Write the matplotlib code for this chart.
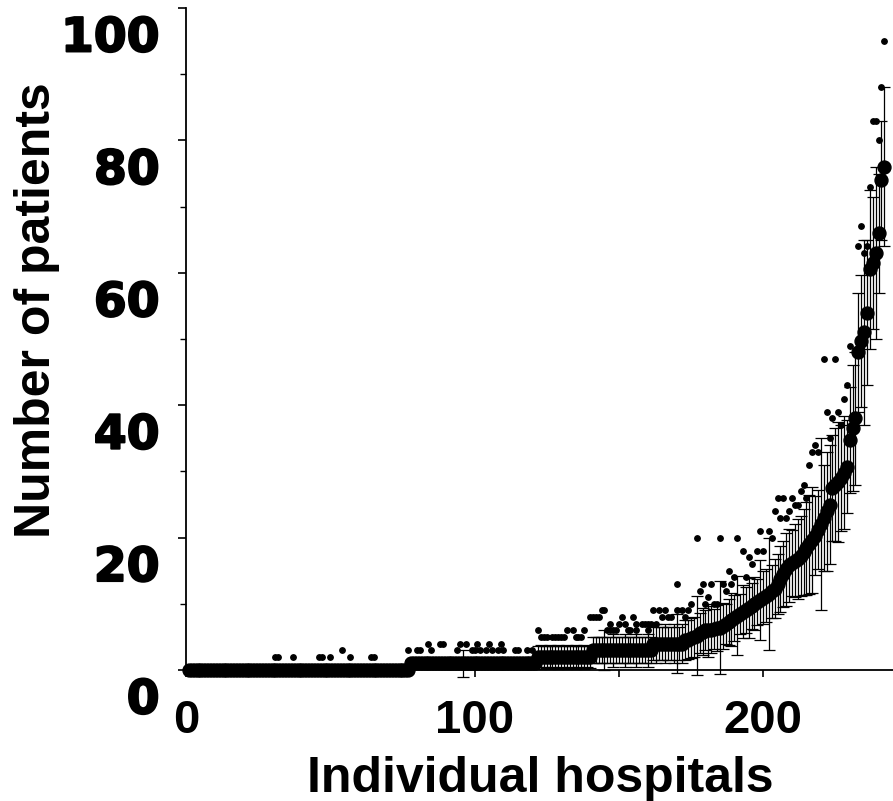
import numpy as np
import matplotlib
matplotlib.use('Agg')
import matplotlib.pyplot as plt
import matplotlib.transforms as mtransforms
import matplotlib.patheffects as pe

plt.rcParams['font.family'] = ['Liberation Sans', 'DejaVu Sans']
plt.rcParams['font.weight'] = 'bold'

# mean number of patients per hospital, sorted (hospital 1..242)
mean_patients = [
    0, 0, 0, 0, 0, 0, 0, 0, 0, 0, 0, 0, 0, 0, 0, 0, 0, 0, 0, 0,
    0, 0, 0, 0, 0, 0, 0, 0, 0, 0, 0, 0, 0, 0, 0, 0, 0, 0, 0, 0,
    0, 0, 0, 0, 0, 0, 0, 0, 0, 0, 0, 0, 0, 0, 0, 0, 0, 0, 0, 0,
    0, 0, 0, 0, 0, 0, 0, 0, 0, 0, 0, 0, 0, 0, 0, 0, 0,
    1, 1, 1, 1, 1, 1, 1, 1, 1, 1, 1, 1, 1, 1, 1, 1, 1, 1, 1, 1,
    1, 1, 1, 1, 1, 1, 1, 1, 1, 1, 1, 1, 1, 1, 1, 1, 1, 1, 1, 1,
    1, 1, 1, 1,
    2, 2, 2, 2, 2, 2, 2, 2, 2, 2, 2, 2, 2, 2, 2, 2, 2, 2, 2,
    3, 3, 3, 3, 3, 3, 3, 3, 3, 3, 3, 3, 3, 3, 3, 3, 3, 3, 3, 3, 3,
    4, 4, 4, 4, 4, 4, 4, 4, 4, 4, 4,
    4.5, 4.6, 4.8, 5.0, 5.2,
    5.6, 5.8, 6.0, 6.0, 6.1, 6.2, 6.3, 6.4, 6.6,
    7.0, 7.3, 7.6, 7.9, 8.2, 8.5, 8.8, 9.1, 9.4, 9.7, 10.0, 10.3, 10.6,
    10.9, 11.2, 11.5, 11.9, 12.3,
    13.0, 13.8, 14.5, 15.2, 15.8,
    16.2, 16.5, 16.8, 17.2,
    17.8, 18.4, 19.0, 19.6, 20.3,
    21.2, 22.0, 23.0, 24.0, 25.0,
    27.5, 28.0, 28.4, 29.0, 29.8,
    30.7, 34.7, 36.5, 38.0, 48.0, 49.7, 51.0, 54.0, 60.5, 61.5, 63.0, 66.0,
    74.0, 76.0,
]

# standard deviation (error bars)
sd_patients = [
    0, 0, 0, 0, 0, 0, 0, 0, 0, 0, 0, 0, 0, 0, 0, 0, 0, 0, 0, 0,
    0, 0, 0, 0, 0, 0, 0, 0, 0, 0, 0, 0, 0, 0, 0, 0, 0, 0, 0, 0,
    0, 0, 0, 0, 0, 0, 0, 0, 0, 0, 0, 0, 0, 0, 0, 0, 0, 0, 0, 0,
    0, 0, 0, 0, 0, 0, 0, 0, 0, 0, 0, 0, 0, 0, 0, 0, 0,
    0.5, 0.5, 0.5, 0.5, 0.5, 0.5, 0.5, 0.5, 0.5, 0.5, 0.5, 0.5, 0.5, 0.5, 0.5, 0.5, 0.5, 0.5, 2.0, 0.5,
    0.5, 0.5, 0.5, 0.5, 0.5, 0.5, 0.5, 0.5, 0.5, 0.5, 0.5, 0.5, 0.5, 0.5, 0.5, 0.5, 0.5, 0.5, 0.5, 0.5,
    0.5, 0.5, 0.5, 0.5,
    1.6, 1.8, 1.6, 1.7, 1.8, 1.6, 1.7, 1.8, 1.6, 1.7, 1.8, 1.6, 1.7, 1.8, 1.6, 1.7, 1.8, 1.6, 1.7,
    2.0, 2.0, 2.0, 2.0, 3.0, 2.0, 2.0, 2.5, 2.0, 2.0, 2.0, 2.5, 2.0, 2.0, 2.0, 2.5, 2.0, 2.0, 2.0, 2.5, 2.0,
    2.5, 3.0, 2.5, 2.5, 3.0, 2.5, 2.5, 3.0, 4.5, 2.5, 3.0,
    3.0, 3.0, 3.0, 3.0, 6.0,
    3.0, 3.5, 3.0, 4.0, 3.5, 3.0, 3.5, 7.0, 3.5,
    3.0, 3.5, 4.0, 3.5, 6.0, 3.0, 4.0, 3.5, 4.5, 3.5, 4.0, 3.5, 6.0,
    4.0, 4.0, 8.5, 4.0, 4.5,
    4.5, 5.0, 5.0, 5.5, 5.5,
    5.0, 5.5, 6.0, 6.0,
    6.5, 7.0, 7.5, 8.0, 6.0,
    6.0, 13.0, 8.0, 9.0, 9.0,
    8.0, 8.5, 9.0, 8.0, 8.5,
    7.0, 8.0, 9.5, 10.0, 9.0, 10.0, 14.0, 11.0, 12.0, 10.0, 13.0, 9.0,
    9.0, 12.0,
]

# individual extreme values shown as small dots
extreme_x = [
    31, 32, 37, 46, 47, 50, 57, 64, 65,
    54, 77, 80, 81, 85, 94, 99, 100, 102, 104, 106, 108, 110, 114, 115, 118, 120,
    84, 88, 89, 95, 97, 101, 105, 109,
    123, 124, 125, 127, 128, 129, 130, 131, 135, 136, 137,
    122, 132, 134, 138, 146, 147, 148, 149, 153, 154, 156, 160,
    147, 150, 152, 156, 158, 159, 160, 161, 163,
    140, 141, 142, 143, 151, 155, 165, 167, 168, 173,
    144, 145, 162, 164, 166, 170, 172, 174,
    175, 180, 183, 184,
    181, 178, 187, 170, 179, 182, 186, 189,
    190, 194, 188, 196, 195, 193, 198, 200,
    177, 185, 191, 203, 199, 202, 206, 208, 204, 209, 211, 212,
    205, 207, 210, 215, 213, 214, 216, 217, 219, 218, 223, 227, 224,
    222, 226, 228, 229, 221, 225, 230,
    235, 233, 236, 234, 237, 240, 238, 239, 241, 242,
]
extreme_y = [
    2, 2, 2, 2, 2, 2, 2, 2, 2,
    3, 3, 3, 3, 3, 3, 3, 3, 3, 3, 3, 3, 3, 3, 3, 3, 3,
    4, 4, 4, 4, 4, 4, 4, 4,
    5, 5, 5, 5, 5, 5, 5, 5, 5, 5, 5,
    6, 6, 6, 6, 6, 6, 6, 6, 6, 6, 6, 6,
    7, 7, 7, 7, 7, 7, 7, 7, 7,
    8, 8, 8, 8, 8, 8, 8, 8, 8, 8,
    9, 9, 9, 9, 9, 9, 9, 9,
    10, 10, 10, 10,
    11, 12, 12, 13, 13, 13, 13, 13,
    14, 14, 15, 16, 17, 18, 18, 18,
    20, 20, 20, 20, 21, 21, 23, 23, 24, 24, 25, 25,
    26, 26, 26, 26, 27, 28, 31, 33, 33, 34, 35, 37, 38,
    39, 39, 41, 43, 47, 47, 49,
    63, 64, 64, 67, 73, 80, 83, 83, 88, 95,
]

hospitals = np.arange(1, len(mean_patients) + 1)

fig = plt.figure(figsize=(8.93, 8.01), dpi=100)
ax = fig.add_axes([186 / 893, 1 - 670 / 801, 707 / 893, 662 / 801])

ax.errorbar(hospitals, mean_patients, yerr=sd_patients, fmt='o', color='black',
            ms=9.3, elinewidth=0.9, capsize=4.5, capthick=0.9, clip_on=False)
ax.plot(extreme_x, extreme_y, 'o', color='black', ms=3.9, clip_on=False)

ax.set_xlim(0, 245)
ax.set_ylim(0, 100)
for s in ['top', 'right']:
    ax.spines[s].set_visible(False)
for s in ['left', 'bottom']:
    ax.spines[s].set_linewidth(1.3)

ax.set_yticks(range(0, 101, 20))
ax.set_yticks(range(10, 100, 20), minor=True)
ax.tick_params(axis='y', which='major', length=6, width=1.2, pad=13, labelsize=34)
ax.tick_params(axis='y', which='minor', length=4, width=1.0)
ax.set_xticks([0, 100, 200])
ax.set_xticks([50, 150], minor=True)
ax.tick_params(axis='x', which='both', length=5, width=1.2, pad=16, labelsize=34)

offset = mtransforms.ScaledTranslation(0, -0.26, fig.dpi_scale_trans)
for lab in ax.get_yticklabels():
    lab.set_transform(lab.get_transform() + offset)
    lab.set_family(['DejaVu Sans'])
    lab.set_path_effects([pe.withStroke(linewidth=1.4, foreground='black')])

fig.text(37 / 893, 1 - 310 / 801, 'Number of patients', rotation=90,
         ha='center', va='center', fontsize=36, fontweight='bold')
fig.text(540 / 893, 1 - 792 / 801, 'Individual hospitals',
         ha='center', va='baseline', fontsize=36, fontweight='bold')

fig.savefig('out.png', dpi=100)
